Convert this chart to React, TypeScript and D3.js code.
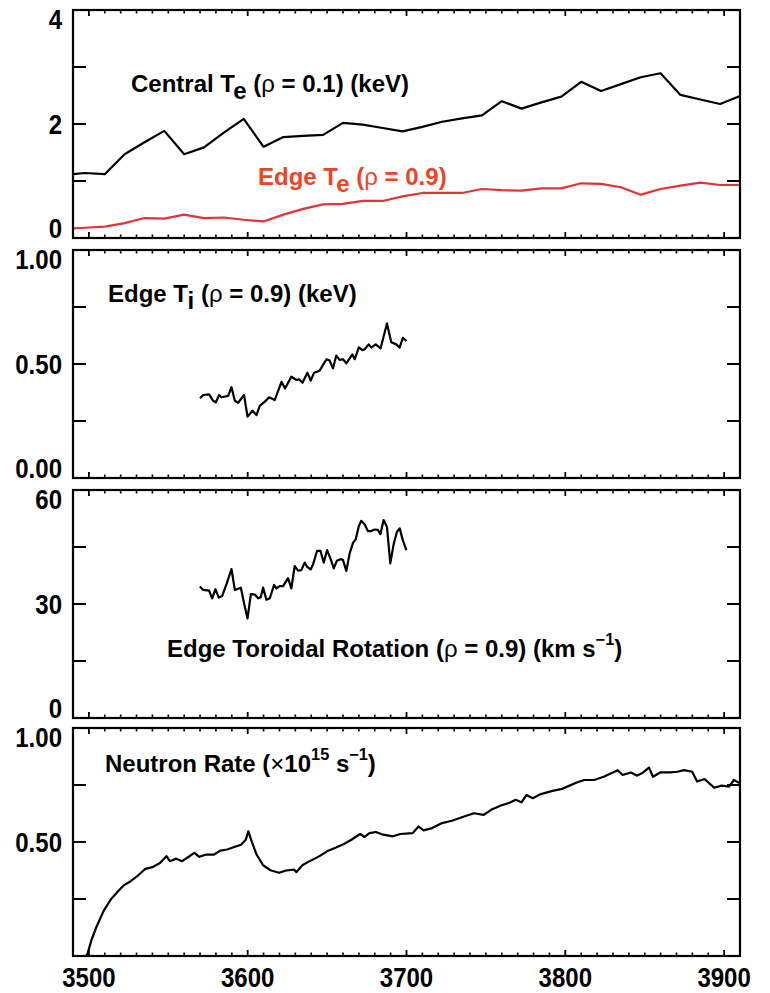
import React from "react";
import * as d3 from "d3";

// ---- Electron temperature, sampled every 12.5 ms ----
const teTime = [
  3485, 3497.5, 3510, 3522.5, 3535, 3547.5, 3560, 3572.5, 3585, 3597.5, 3610, 3622.5,
  3635, 3647.5, 3660, 3672.5, 3685, 3697.5, 3710, 3722.5, 3735, 3747.5, 3760, 3772.5,
  3785, 3797.5, 3810, 3822.5, 3835, 3847.5, 3860, 3872.5, 3885, 3897.5, 3910,
];
const centralTe = [
  1.11, 1.14, 1.12, 1.47, 1.68, 1.88, 1.47, 1.59, 1.85, 2.09, 1.6, 1.77,
  1.79, 1.81, 2.02, 1.99, 1.93, 1.87, 1.95, 2.04, 2.1, 2.15, 2.4, 2.27,
  2.38, 2.48, 2.74, 2.58, 2.7, 2.82, 2.89, 2.51, 2.43, 2.35, 2.49,
];
const edgeTe = [
  0.16, 0.18, 0.2, 0.26, 0.35, 0.34, 0.41, 0.35, 0.36, 0.32, 0.29, 0.41,
  0.51, 0.59, 0.6, 0.65, 0.65, 0.73, 0.79, 0.79, 0.79, 0.86, 0.84, 0.83,
  0.87, 0.87, 0.96, 0.95, 0.89, 0.76, 0.86, 0.92, 0.97, 0.93, 0.93,
];

// ---- Edge ion temperature (keV) ----
const tiTime = [
  3570, 3572, 3575.7, 3578.2, 3580, 3582, 3583.5, 3587.7, 3589.8, 3591.9, 3594, 3597.7,
  3599.9, 3603, 3605.5, 3607.6, 3610.8, 3613.5, 3617, 3621.3, 3623.5, 3627.5, 3630.7,
  3632.3, 3634.5, 3637.6, 3639.7, 3641.8, 3645.3, 3649.6, 3651.6, 3653.7, 3655.8, 3657.9,
  3660, 3662.1, 3665.9, 3667.4, 3670, 3672.2, 3673.6, 3676.2, 3677.8, 3680.6, 3683.7,
  3687.7, 3690.4, 3693.6, 3695.7, 3697.7, 3699.9,
];
const edgeTi = [
  0.35, 0.364, 0.367, 0.339, 0.332, 0.364, 0.354, 0.36, 0.398, 0.339, 0.33, 0.364,
  0.269, 0.295, 0.276, 0.316, 0.335, 0.354, 0.342, 0.422, 0.393, 0.444, 0.43,
  0.433, 0.418, 0.462, 0.427, 0.462, 0.471, 0.521, 0.515, 0.481, 0.537, 0.518,
  0.521, 0.503, 0.542, 0.521, 0.573, 0.561, 0.564, 0.586, 0.572, 0.586, 0.569,
  0.678, 0.595, 0.586, 0.572, 0.615, 0.601,
];

// ---- Edge toroidal rotation (km/s) ----
const rotTime = [
  3569.9, 3572, 3575.7, 3577.6, 3579.7, 3581.8, 3583.9, 3586.7, 3589.8, 3591.9, 3595.7,
  3597.7, 3599.9, 3602, 3604.5, 3606.6, 3608.2, 3609.7, 3611.8, 3613.9, 3616.6, 3618.1,
  3620.2, 3622.3, 3625.4, 3627.5, 3629.6, 3631.7, 3633.8, 3635.9, 3637.4, 3639.7, 3641.2,
  3643.7, 3645.8, 3647.9, 3650, 3652.1, 3654.2, 3656.2, 3658.4, 3660, 3662.1, 3664.2,
  3666.3, 3668, 3670, 3671.5, 3673.6, 3675.7, 3677.8, 3679.9, 3682, 3683.6, 3685.6,
  3687.7, 3689.8, 3691.9, 3694, 3695.7, 3697.7, 3699.9,
];
const edgeRot = [
  34.6, 33.7, 33.5, 31.5, 33.9, 31.7, 32.1, 35.3, 39.2, 33.7, 34.3,
  30.2, 26.2, 32.6, 32.5, 31.5, 31.8, 34.3, 31.1, 31.5, 35.0, 34.1,
  34.7, 34.7, 36.8, 34.1, 40.0, 38.8, 38.9, 40.9, 39.8, 39.1, 40.5,
  44.0, 44.0, 40.9, 44.2, 42.0, 39.4, 41.4, 41.8, 41.6, 38.7, 43.3,
  46.1, 47.0, 50.5, 51.9, 51.0, 49.2, 49.2, 49.6, 49.5, 48.4, 52.1,
  50.3, 40.7, 45.7, 49.0, 49.9, 46.8, 44.2,
];

// ---- Neutron rate (1e15 /s) ----
const nTime = [
  3490, 3498.5, 3499.4, 3501.5, 3504.6, 3509.3, 3513.9, 3518.5, 3522.2, 3526.3, 3530.9,
  3535.5, 3540.2, 3544.8, 3548.8, 3551, 3555, 3558.7, 3562.4, 3566.4, 3569.5, 3574.1,
  3578.8, 3582.8, 3587.1, 3591.1, 3595.8, 3598.8, 3600.4, 3602.5, 3605.6, 3609.7, 3614.3,
  3619.8, 3624.2, 3629.1, 3630.7, 3634.4, 3639, 3645.2, 3650.7, 3656, 3660.6, 3665.3,
  3670.8, 3673.6, 3676.7, 3680.7, 3685.3, 3691.5, 3696.1, 3703.9, 3707.6, 3710.7, 3716.2,
  3722.4, 3728.6, 3736.3, 3742.5, 3748.6, 3753.3, 3759.5, 3765.6, 3768.7, 3772.4, 3775.5,
  3779.5, 3784.1, 3791.9, 3798, 3805.7, 3811.9, 3818.1, 3824.2, 3828.9, 3833, 3836.1,
  3841.3, 3845.3, 3849, 3852.7, 3855.2, 3859.8, 3866, 3870.6, 3874.7, 3879.9, 3883,
  3887.7, 3890.7, 3893.8, 3898.5, 3903.1, 3906.2, 3910,
];
const neutron = [
  0, 0, 0.016, 0.067, 0.125, 0.198, 0.249, 0.285, 0.311, 0.328, 0.353,
  0.382, 0.39, 0.408, 0.438, 0.416, 0.427, 0.416, 0.433, 0.452, 0.435, 0.445,
  0.445, 0.462, 0.467, 0.477, 0.488, 0.51, 0.547, 0.503, 0.445, 0.398, 0.376,
  0.365, 0.375, 0.379, 0.368, 0.398, 0.416, 0.438, 0.462, 0.477, 0.491, 0.51,
  0.535, 0.522, 0.539, 0.544, 0.532, 0.525, 0.535, 0.539, 0.568, 0.551, 0.561,
  0.583, 0.593, 0.612, 0.626, 0.619, 0.641, 0.66, 0.674, 0.685, 0.674, 0.706,
  0.692, 0.709, 0.724, 0.733, 0.757, 0.772, 0.772, 0.786, 0.801, 0.815, 0.794,
  0.805, 0.791, 0.805, 0.826, 0.786, 0.805, 0.805, 0.808, 0.815, 0.808, 0.765,
  0.776, 0.757, 0.738, 0.747, 0.743, 0.772, 0.757,
];

const xMajor = [3500, 3600, 3700, 3800, 3900];

const FONT = "'Liberation Sans', Arial, Helvetica, sans-serif";
const RED_LINE = "#e5323a";
const RED_TEXT = "#ee4424";

const X0 = 73;
const X1 = 740;
const PANEL_H = 228;

const x = d3.scaleLinear().domain([3490, 3910]).range([X0, X1]);
const minorTicks = d3.range(3490, 3911, 10).filter((v) => v > 3490 && v < 3910 && v % 100 !== 0);

type Seg = { t: string; d?: "sub" | "sup"; sym?: boolean };

function Rich({ px, py, segs, size = 24, fill = "#000" }: { px: number; py: number; segs: Seg[]; size?: number; fill?: string }) {
  let cur = 0;
  return (
    <text x={px} y={py} fontSize={size} fill={fill} fontWeight="bold" fontFamily={FONT} style={{ whiteSpace: "pre" }}>
      {segs.map((s, i) => {
        const target = s.d === "sub" ? size * 0.3 : s.d === "sup" ? -size * 0.5 : 0;
        const dy = target - cur;
        cur = target;
        return (
          <tspan key={i} dy={dy} fontSize={s.d === "sup" ? size * 0.68 : size} fontWeight={s.sym ? "normal" : "bold"}>
            {s.t}
          </tspan>
        );
      })}
    </text>
  );
}

type PanelProps = {
  top: number;
  domain: [number, number];
  ticks: number[];
  labels: { v: number; s: string }[];
  id: string;
  bottomLabels?: boolean;
  children: (y: d3.ScaleLinear<number, number>) => React.ReactNode;
};

function Panel({ top, domain, ticks, labels, id, bottomLabels, children }: PanelProps) {
  const y = d3.scaleLinear().domain(domain).range([top + PANEL_H, top]);
  const bottom = top + PANEL_H;
  return (
    <g>
      <defs>
        <clipPath id={id}>
          <rect x={X0} y={top} width={X1 - X0} height={PANEL_H} />
        </clipPath>
      </defs>
      <g clipPath={`url(#${id})`}>{children(y)}</g>
      {/* x minor and major ticks on both horizontal edges */}
      {minorTicks.map((t) => (
        <g key={`m${t}`} stroke="#000" strokeWidth={1.6}>
          <line x1={x(t)} x2={x(t)} y1={bottom} y2={bottom - 3.5} />
          <line x1={x(t)} x2={x(t)} y1={top} y2={top + 3.5} />
        </g>
      ))}
      {xMajor.map((t) => (
        <g key={`M${t}`} stroke="#000" strokeWidth={1.8}>
          <line x1={x(t)} x2={x(t)} y1={bottom} y2={bottom - 6} />
          <line x1={x(t)} x2={x(t)} y1={top} y2={top + 6} />
        </g>
      ))}
      {/* y ticks on both vertical edges */}
      {ticks.map((t) => (
        <g key={`y${t}`} stroke="#000" strokeWidth={2}>
          <line x1={X0} x2={X0 + 13} y1={y(t)} y2={y(t)} />
          <line x1={X1} x2={X1 - 13} y1={y(t)} y2={y(t)} />
        </g>
      ))}
      <rect x={X0} y={top} width={X1 - X0} height={PANEL_H} fill="none" stroke="#000" strokeWidth={2.2} />
      {labels.map(({ v, s }) => {
        const py = y(v);
        const base = v === domain[1] ? py + 18.5 : v === domain[0] ? py : py + 9.5;
        return (
          <text
            key={`l${v}`}
            transform={`translate(62,${base}) scale(0.89,1)`}
            textAnchor="end"
            fontSize={27}
            fontWeight="bold"
            fontFamily={FONT}
          >
            {s}
          </text>
        );
      })}
      {bottomLabels &&
        xMajor.map((t) => (
          <text
            key={`xl${t}`}
            transform={`translate(${x(t)},${bottom + 31}) scale(0.89,1)`}
            textAnchor="middle"
            fontSize={27}
            fontWeight="bold"
            fontFamily={FONT}
          >
            {t}
          </text>
        ))}
    </g>
  );
}

function pathOf(xs: number[], ys: number[], y: d3.ScaleLinear<number, number>) {
  const pts = xs.map((t, i) => [t, ys[i]] as [number, number]);
  return d3
    .line<[number, number]>()
    .x((d) => x(d[0]))
    .y((d) => y(d[1]))(pts) as string;
}

const LW = 2.2;

export default function App() {
  return (
    <svg width={770} height={993} style={{ position: "absolute", left: 0, top: 0, background: "#fff" }}>
      <rect width={770} height={993} fill="#fff" />
      <Panel
        id="c1"
        top={10}
        domain={[0, 4]}
        ticks={[0, 1, 2, 3, 4]}
        labels={[
          { v: 0, s: "0" },
          { v: 2, s: "2" },
          { v: 4, s: "4" },
        ]}
      >
        {(y) => (
          <>
            <path d={pathOf(teTime, centralTe, y)} fill="none" stroke="#000" strokeWidth={LW} strokeLinejoin="round" />
            <path d={pathOf(teTime, edgeTe, y)} fill="none" stroke={RED_LINE} strokeWidth={LW} strokeLinejoin="round" />
          </>
        )}
      </Panel>
      <Rich
        px={131}
        py={92}
        segs={[
          { t: "Central T" },
          { t: "e", d: "sub" },
          { t: " (" },
          { t: "ρ", sym: true },
          { t: " = 0.1) (keV)" },
        ]}
      />
      <Rich
        px={258}
        py={185}
        fill={RED_TEXT}
        segs={[{ t: "Edge T" }, { t: "e", d: "sub" }, { t: " (" }, { t: "ρ", sym: true }, { t: " = 0.9)" }]}
      />

      <Panel
        id="c2"
        top={250}
        domain={[0, 1]}
        ticks={[0, 0.25, 0.5, 0.75, 1]}
        labels={[
          { v: 0, s: "0.00" },
          { v: 0.5, s: "0.50" },
          { v: 1, s: "1.00" },
        ]}
      >
        {(y) => <path d={pathOf(tiTime, edgeTi, y)} fill="none" stroke="#000" strokeWidth={LW} strokeLinejoin="round" />}
      </Panel>
      <Rich
        px={108}
        py={302}
        segs={[{ t: "Edge T" }, { t: "i", d: "sub" }, { t: " (" }, { t: "ρ", sym: true }, { t: " = 0.9) (keV)" }]}
      />

      <Panel
        id="c3"
        top={490}
        domain={[0, 60]}
        ticks={[0, 15, 30, 45, 60]}
        labels={[
          { v: 0, s: "0" },
          { v: 30, s: "30" },
          { v: 60, s: "60" },
        ]}
      >
        {(y) => <path d={pathOf(rotTime, edgeRot, y)} fill="none" stroke="#000" strokeWidth={LW} strokeLinejoin="round" />}
      </Panel>
      <Rich
        px={167}
        py={657}
        segs={[
          { t: "Edge Toroidal Rotation (" },
          { t: "ρ", sym: true },
          { t: " = 0.9) (km s" },
          { t: "−1", d: "sup" },
          { t: ")" },
        ]}
      />

      <Panel
        id="c4"
        top={728}
        domain={[0, 1]}
        ticks={[0, 0.25, 0.5, 0.75, 1]}
        labels={[
          { v: 0.5, s: "0.50" },
          { v: 1, s: "1.00" },
        ]}
        bottomLabels
      >
        {(y) => <path d={pathOf(nTime, neutron, y)} fill="none" stroke="#000" strokeWidth={LW} strokeLinejoin="round" />}
      </Panel>
      <Rich
        px={105}
        py={772}
        segs={[
          { t: "Neutron Rate (" },
          { t: "×", sym: true },
          { t: "10" },
          { t: "15", d: "sup" },
          { t: " s" },
          { t: "−1", d: "sup" },
          { t: ")" },
        ]}
      />
    </svg>
  );
}
